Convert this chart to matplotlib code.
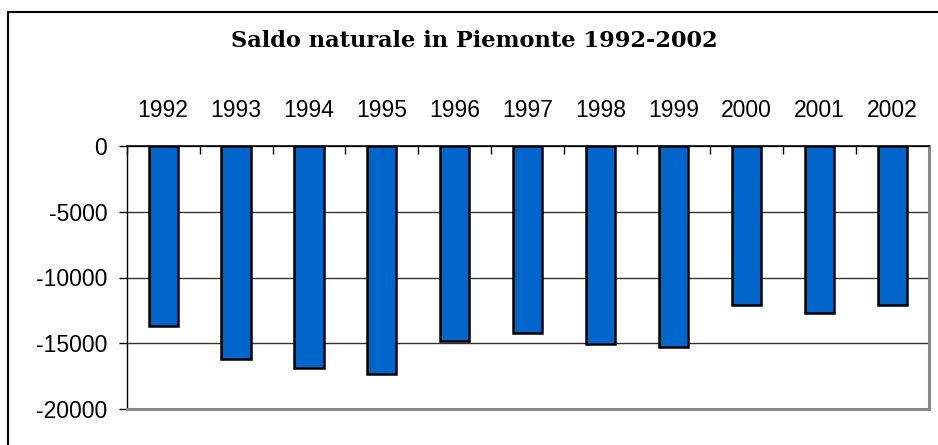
import matplotlib
matplotlib.use("Agg")
import matplotlib.pyplot as plt
import matplotlib.patches as mpatches
import numpy as np

years = ["1992", "1993", "1994", "1995", "1996", "1997", "1998", "1999", "2000", "2001", "2002"]
saldo = [-13660, -16220, -16860, -17340, -14800, -14220, -15030, -15280, -12090, -12670, -12110]
yticks = [0, -5000, -10000, -15000, -20000]
title = "Saldo naturale in Piemonte 1992-2002"

plt.rcParams['font.family'] = ['Liberation Sans', 'DejaVu Sans']

fig = plt.figure(figsize=(9.38, 4.45), dpi=100)
ax = fig.add_axes([126.7/938, 1-409/445, (928.7-126.7)/938, (409-146)/445])

x = np.arange(len(years))
ax.bar(x, saldo, width=0.4, color="#0066CC", edgecolor="black", linewidth=1.8, zorder=3)

ax.set_xlim(-0.5, len(years) - 0.5)
ax.set_ylim(-20000, 0)
ax.set_yticks(yticks)
ax.set_yticklabels([str(v) for v in yticks], fontsize=16.5)
ax.tick_params(axis='y', direction='out', length=6, width=1, pad=8, colors='black')

ax.xaxis.tick_top()
ax.set_xticks(x)
ax.set_xticklabels(years, fontsize=16.5)
ax.tick_params(axis='x', which='major', length=0, pad=17)
ax.set_xticks(np.arange(-0.5, len(years), 1), minor=True)
ax.tick_params(axis='x', which='minor', direction='in', length=6, width=1, top=True, bottom=False, color='black')

ax.yaxis.grid(True, color='#333333', linewidth=1, zorder=0)
ax.set_axisbelow(True)

ax.spines['left'].set_color('black')
ax.spines['left'].set_linewidth(1)
ax.spines['top'].set_color('black')
ax.spines['top'].set_linewidth(1.2)
ax.spines['right'].set_color('#888888')
ax.spines['right'].set_linewidth(2.2)
ax.spines['bottom'].set_color('#888888')
ax.spines['bottom'].set_linewidth(2.2)

fig.text(0.506, 1-41/445, title, ha='center', va='center', fontsize=16.2, fontweight='bold',
         family=['DejaVu Serif', 'Liberation Serif'])

frame = mpatches.Rectangle((8/938, -0.1), 1.0, 1-12/445+0.1, transform=fig.transFigure,
                           fill=False, edgecolor='black', linewidth=1.5, clip_on=False)
fig.patches.append(frame)

fig.savefig("out.png", dpi=100)
